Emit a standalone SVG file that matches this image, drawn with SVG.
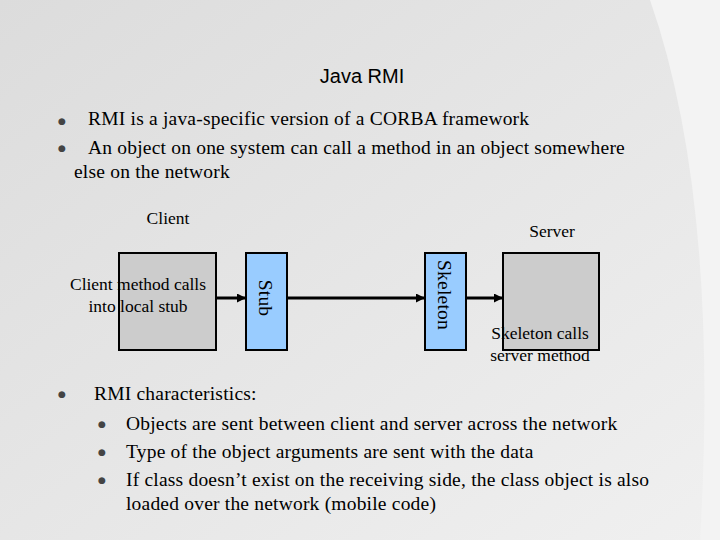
<svg xmlns="http://www.w3.org/2000/svg" width="720" height="540" viewBox="0 0 720 540">
<defs>
<linearGradient id="bg" x1="0" y1="0" x2="1" y2="1"><stop offset="0" stop-color="#dcdcdc"/><stop offset="0.6" stop-color="#e8e8e8"/><stop offset="1" stop-color="#f0f0f0"/></linearGradient>
<marker id="ah" viewBox="0 0 10 10" refX="10" refY="5" markerWidth="3" markerHeight="3" orient="auto"><path d="M0,0 L10,5 L0,10 z" fill="#000"/></marker>
</defs>
<style>
.t{font-family:"Liberation Serif",serif;fill:#000}
.b{font-size:19.5px;letter-spacing:0.2px}
.s{font-size:17.5px}
.dot{font-family:"DejaVu Sans",sans-serif;font-size:9px;fill:#444}
.gbox{fill:#cccccc;stroke:#000;stroke-width:2}
.blue{fill:#99ccff;stroke:#000;stroke-width:2}
.ln{stroke:#000;stroke-width:3;fill:none;marker-end:url(#ah)}
</style>
<rect width="720" height="540" fill="url(#bg)"/>
<path d="M650,0 Q720,200 700,540 L720,540 L720,0 z" fill="#f3f3f3"/>
<text x="362" y="83" text-anchor="middle" font-family="Liberation Sans,sans-serif" font-size="20" fill="#000">Java RMI</text>
<text class="dot" x="58" y="124">●</text>
<text class="t b" x="88" y="125">RMI is a java-specific version of a CORBA framework</text>
<text class="dot" x="58" y="151">●</text>
<text class="t b" x="88" y="154">An object on one system can call a method in an object somewhere</text>
<text class="t b" x="74" y="178">else on the network</text>
<text class="t s" x="168" y="224" text-anchor="middle">Client</text>
<text class="t s" x="552" y="237" text-anchor="middle">Server</text>
<g id="client"><rect class="gbox" x="119" y="253" width="97" height="97"/><text class="t s" x="138" y="290" text-anchor="middle">Client method calls</text><text class="t s" x="138" y="312" text-anchor="middle">into local stub</text></g>
<g id="stub"><rect class="blue" x="246" y="253" width="41" height="97"/><text class="t b" transform="translate(259,298) rotate(90)" text-anchor="middle">Stub</text></g>
<g id="skeleton"><rect class="blue" x="425" y="253" width="41" height="97"/><text class="t b" transform="translate(438,295) rotate(90)" text-anchor="middle">Skeleton</text></g>
<g id="server"><rect class="gbox" x="503" y="253" width="96" height="97"/><text class="t s" x="540" y="339" text-anchor="middle">Skeleton calls</text><text class="t s" x="540" y="361" text-anchor="middle">server method</text></g>
<g id="connectors">
<line class="ln" x1="216" y1="298" x2="246" y2="298"/>
<line class="ln" x1="287" y1="298" x2="425" y2="298"/>
<line class="ln" x1="466" y1="298" x2="503" y2="298"/>
</g>
<text class="dot" x="58" y="397">●</text>
<text class="t b" x="94" y="400">RMI characteristics:</text>
<text class="dot" x="98" y="427">●</text>
<text class="t b" x="126" y="430">Objects are sent between client and server across the network</text>
<text class="dot" x="98" y="455">●</text>
<text class="t b" x="126" y="458">Type of the object arguments are sent with the data</text>
<text class="dot" x="98" y="483">●</text>
<text class="t b" x="126" y="486">If class doesn’t exist on the receiving side, the class object is also</text>
<text class="t b" x="126" y="510">loaded over the network (mobile code)</text>
</svg>
